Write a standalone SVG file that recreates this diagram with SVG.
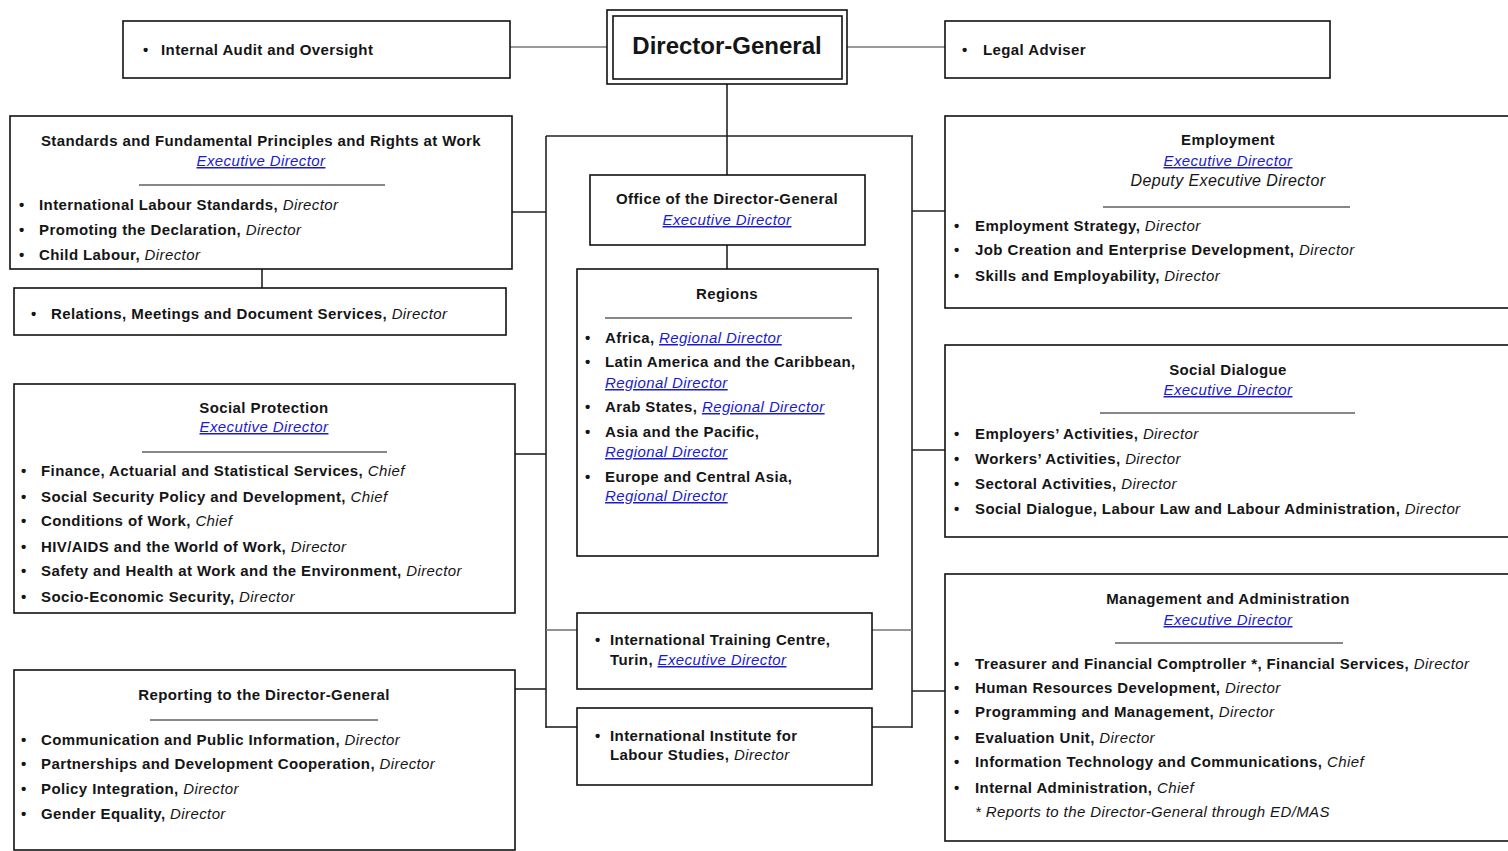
<svg xmlns="http://www.w3.org/2000/svg" width="1508" height="851" viewBox="0 0 1508 851">
<style>
.box{fill:#fff;stroke:#111;stroke-width:1.6}
.conn line{stroke:#222;stroke-width:1.6}
.conn line.g{stroke:#777;stroke-width:1.6}
.sep{stroke:#111;stroke-width:1.2}
text{font-family:"Liberation Sans",Arial,sans-serif;font-size:15px;letter-spacing:0.4px;fill:#151515}
.b{font-weight:bold}
.t{font-weight:bold;text-anchor:middle}
.i{font-style:italic;font-weight:normal}
.lnk{font-style:italic;font-weight:normal;fill:#1a1ad0;text-decoration:underline}
.c{text-anchor:middle}
</style>
<rect width="1508" height="851" fill="#fff"/>
<g id="connectors" class="conn">
<line class="g" x1="510" y1="47" x2="607" y2="47"/>
<line class="g" x1="847" y1="47" x2="945" y2="47"/>
<line x1="727" y1="84" x2="727" y2="175"/>
<line x1="546" y1="136" x2="913" y2="136"/>
<line x1="546" y1="136" x2="546" y2="728"/>
<line x1="912" y1="136" x2="912" y2="728"/>
<line x1="727" y1="245" x2="727" y2="269"/>
<line x1="512" y1="212" x2="546" y2="212"/>
<line x1="262" y1="269" x2="262" y2="288"/>
<line x1="515" y1="454" x2="546" y2="454"/>
<line x1="515" y1="689" x2="546" y2="689"/>
<line class="g" x1="546" y1="630" x2="577" y2="630"/>
<line class="g" x1="872" y1="630" x2="912" y2="630"/>
<line x1="546" y1="727" x2="577" y2="727"/>
<line x1="872" y1="727" x2="912" y2="727"/>
<line x1="912" y1="211" x2="945" y2="211"/>
<line x1="912" y1="450" x2="945" y2="450"/>
<line x1="912" y1="691" x2="945" y2="691"/>
</g>
<g id="dg">
<rect class="box" x="607" y="10" width="240" height="74"/>
<rect class="box" x="613" y="16" width="229" height="63"/>
<text x="727" y="54" class="t" style="font-size:24px;letter-spacing:0">Director-General</text>
</g>
<g id="internal-audit">
<rect class="box" x="123" y="21" width="387" height="57"/>
<text x="143" y="55" class="b">•</text><text x="161" y="55" class="b">Internal Audit and Oversight</text>
</g>
<g id="legal">
<rect class="box" x="945" y="21" width="385" height="57"/>
<text x="962" y="55" class="b">•</text><text x="983" y="55" class="b">Legal Adviser</text>
</g>
<g id="standards">
<rect class="box" x="10" y="116" width="502" height="153"/>
<text x="261" y="146" class="t">Standards and Fundamental Principles and Rights at Work</text>
<text x="261" y="166" class="lnk c">Executive Director</text>
<line class="sep" x1="139" y1="185" x2="385" y2="185"/>
<text x="19" y="210" class="b">•</text><text x="39" y="210" class="b">International Labour Standards, <tspan class="i">Director</tspan></text>
<text x="19" y="235" class="b">•</text><text x="39" y="235" class="b">Promoting the Declaration, <tspan class="i">Director</tspan></text>
<text x="19" y="260" class="b">•</text><text x="39" y="260" class="b">Child Labour, <tspan class="i">Director</tspan></text>
</g>
<g id="relations">
<rect class="box" x="14" y="288" width="492" height="47"/>
<text x="31" y="319" class="b">•</text><text x="51" y="319" class="b">Relations, Meetings and Document Services, <tspan class="i">Director</tspan></text>
</g>
<g id="social-protection">
<rect class="box" x="14" y="384" width="501" height="229"/>
<text x="264" y="413" class="t">Social Protection</text>
<text x="264" y="432" class="lnk c">Executive Director</text>
<line class="sep" x1="142" y1="452" x2="387" y2="452"/>
<text x="21" y="476" class="b">•</text><text x="41" y="476" class="b">Finance, Actuarial and Statistical Services, <tspan class="i">Chief</tspan></text>
<text x="21" y="502" class="b">•</text><text x="41" y="502" class="b">Social Security Policy and Development, <tspan class="i">Chief</tspan></text>
<text x="21" y="526" class="b">•</text><text x="41" y="526" class="b">Conditions of Work, <tspan class="i">Chief</tspan></text>
<text x="21" y="552" class="b">•</text><text x="41" y="552" class="b">HIV/AIDS and the World of Work, <tspan class="i">Director</tspan></text>
<text x="21" y="576" class="b">•</text><text x="41" y="576" class="b">Safety and Health at Work and the Environment, <tspan class="i">Director</tspan></text>
<text x="21" y="602" class="b">•</text><text x="41" y="602" class="b">Socio-Economic Security, <tspan class="i">Director</tspan></text>
</g>
<g id="reporting">
<rect class="box" x="14" y="670" width="501" height="180"/>
<text x="264" y="700" class="t">Reporting to the Director-General</text>
<line class="sep" x1="150" y1="720" x2="378" y2="720"/>
<text x="21" y="745" class="b">•</text><text x="41" y="745" class="b">Communication and Public Information, <tspan class="i">Director</tspan></text>
<text x="21" y="769" class="b">•</text><text x="41" y="769" class="b">Partnerships and Development Cooperation, <tspan class="i">Director</tspan></text>
<text x="21" y="794" class="b">•</text><text x="41" y="794" class="b">Policy Integration, <tspan class="i">Director</tspan></text>
<text x="21" y="819" class="b">•</text><text x="41" y="819" class="b">Gender Equality, <tspan class="i">Director</tspan></text>
</g>
<g id="office-dg">
<rect class="box" x="590" y="175" width="275" height="70"/>
<text x="727" y="204" class="t">Office of the Director-General</text>
<text x="727" y="225" class="lnk c">Executive Director</text>
</g>
<g id="regions">
<rect class="box" x="577" y="269" width="301" height="287"/>
<text x="727" y="299" class="t">Regions</text>
<line class="sep" x1="605" y1="318" x2="852" y2="318"/>
<text x="585" y="343" class="b">•</text><text x="605" y="343" class="b">Africa, <tspan class="lnk">Regional Director</tspan></text>
<text x="585" y="367" class="b">•</text><text x="605" y="367" class="b">Latin America and the Caribbean,</text>
<text x="605" y="388" class="lnk">Regional Director</text>
<text x="585" y="412" class="b">•</text><text x="605" y="412" class="b">Arab States, <tspan class="lnk">Regional Director</tspan></text>
<text x="585" y="437" class="b">•</text><text x="605" y="437" class="b">Asia and the Pacific,</text>
<text x="605" y="457" class="lnk">Regional Director</text>
<text x="585" y="482" class="b">•</text><text x="605" y="482" class="b">Europe and Central Asia,</text>
<text x="605" y="501" class="lnk">Regional Director</text>
</g>
<g id="itc-turin">
<rect class="box" x="577" y="613" width="295" height="76"/>
<text x="595" y="645" class="b">•</text><text x="610" y="645" class="b">International Training Centre,</text>
<text x="610" y="665" class="b">Turin, <tspan class="lnk">Executive Director</tspan></text>
</g>
<g id="iils">
<rect class="box" x="577" y="708" width="295" height="77"/>
<text x="595" y="741" class="b">•</text><text x="610" y="741" class="b">International Institute for</text>
<text x="610" y="760" class="b">Labour Studies, <tspan class="i">Director</tspan></text>
</g>
<g id="employment">
<rect class="box" x="945" y="116" width="570" height="192"/>
<text x="1228" y="145" class="t">Employment</text>
<text x="1228" y="166" class="lnk c">Executive Director</text>
<text x="1228" y="186" class="i c" style="font-size:16px">Deputy Executive Director</text>
<line class="sep" x1="1103" y1="207" x2="1350" y2="207"/>
<text x="954" y="231" class="b">•</text><text x="975" y="231" class="b">Employment Strategy, <tspan class="i">Director</tspan></text>
<text x="954" y="255" class="b">•</text><text x="975" y="255" class="b">Job Creation and Enterprise Development, <tspan class="i">Director</tspan></text>
<text x="954" y="281" class="b">•</text><text x="975" y="281" class="b">Skills and Employability, <tspan class="i">Director</tspan></text>
</g>
<g id="social-dialogue">
<rect class="box" x="945" y="345" width="570" height="192"/>
<text x="1228" y="375" class="t">Social Dialogue</text>
<text x="1228" y="395" class="lnk c">Executive Director</text>
<line class="sep" x1="1100" y1="413" x2="1355" y2="413"/>
<text x="954" y="439" class="b">•</text><text x="975" y="439" class="b">Employers’ Activities, <tspan class="i">Director</tspan></text>
<text x="954" y="464" class="b">•</text><text x="975" y="464" class="b">Workers’ Activities, <tspan class="i">Director</tspan></text>
<text x="954" y="489" class="b">•</text><text x="975" y="489" class="b">Sectoral Activities, <tspan class="i">Director</tspan></text>
<text x="954" y="514" class="b">•</text><text x="975" y="514" class="b">Social Dialogue, Labour Law and Labour Administration, <tspan class="i">Director</tspan></text>
</g>
<g id="management">
<rect class="box" x="945" y="574" width="570" height="267"/>
<text x="1228" y="604" class="t">Management and Administration</text>
<text x="1228" y="625" class="lnk c">Executive Director</text>
<line class="sep" x1="1115" y1="643" x2="1343" y2="643"/>
<text x="954" y="669" class="b">•</text><text x="975" y="669" class="b">Treasurer and Financial Comptroller *, Financial Services, <tspan class="i">Director</tspan></text>
<text x="954" y="693" class="b">•</text><text x="975" y="693" class="b">Human Resources Development, <tspan class="i">Director</tspan></text>
<text x="954" y="717" class="b">•</text><text x="975" y="717" class="b">Programming and Management, <tspan class="i">Director</tspan></text>
<text x="954" y="743" class="b">•</text><text x="975" y="743" class="b">Evaluation Unit, <tspan class="i">Director</tspan></text>
<text x="954" y="767" class="b">•</text><text x="975" y="767" class="b">Information Technology and Communications, <tspan class="i">Chief</tspan></text>
<text x="954" y="793" class="b">•</text><text x="975" y="793" class="b">Internal Administration, <tspan class="i">Chief</tspan></text>
<text x="975" y="817" class="i">* Reports to the Director-General through ED/MAS</text>
</g>
</svg>
